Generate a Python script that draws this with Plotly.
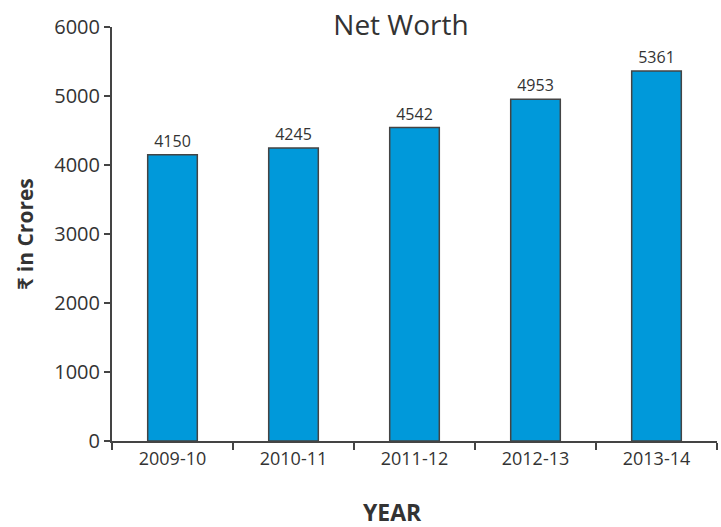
import plotly.graph_objects as go

years = ["2009-10", "2010-11", "2011-12", "2012-13", "2013-14"]
net_worth = [4150, 4245, 4542, 4953, 5361]
y_ticks = [0, 1000, 2000, 3000, 4000, 5000, 6000]

font_family = "'Open Sans', Lato, sans-serif"
ink = "#333333"
axis_col = "#444444"

W, H = 721, 527
M = dict(l=112, r=4, t=27, b=86)

fig = go.Figure(
    go.Bar(
        x=years,
        y=net_worth,
        text=[str(v) for v in net_worth],
        textposition="outside",
        textfont=dict(size=16, color=ink, family=font_family),
        cliponaxis=False,
        width=0.41,
        marker=dict(color="#0099DA", line=dict(color=axis_col, width=1.5)),
    )
)

fig.update_layout(
    width=W,
    height=H,
    margin=M,
    paper_bgcolor="white",
    plot_bgcolor="white",
    font=dict(family=font_family, color=ink, size=16),
    showlegend=False,
    title=dict(
        text="Net Worth",
        xref="container",
        x=401 / W,
        xanchor="center",
        y=1 - 25 / H,
        yanchor="middle",
        font=dict(size=28, color=ink, family=font_family),
    ),
)

# x-axis title placed as a free annotation below the category labels
fig.add_annotation(
    text="<b>YEAR</b>",
    xref="paper",
    yref="paper",
    x=(392 - M["l"]) / (W - M["l"] - M["r"]),
    y=-(512 - (H - M["b"])) / (H - M["t"] - M["b"]),
    xanchor="center",
    yanchor="middle",
    showarrow=False,
    font=dict(size=23, color=ink, family=font_family),
)

fig.update_xaxes(
    type="category",
    showline=True,
    linecolor=axis_col,
    linewidth=2,
    ticks="outside",
    tickson="boundaries",
    ticklen=7,
    tickwidth=2,
    tickcolor=axis_col,
    tickfont=dict(size=18, color=ink),
    showgrid=False,
)

fig.update_yaxes(
    range=[0, 6000],
    tickvals=y_ticks,
    showline=True,
    linecolor=axis_col,
    linewidth=2,
    ticks="outside",
    ticklen=6,
    tickwidth=2,
    tickcolor=axis_col,
    tickfont=dict(size=20, color=ink),
    showgrid=False,
    zeroline=False,
    title=dict(text="<b>₹ in Crores</b>", font=dict(size=21, color=ink), standoff=15),
)

fig.write_html("out.html")
